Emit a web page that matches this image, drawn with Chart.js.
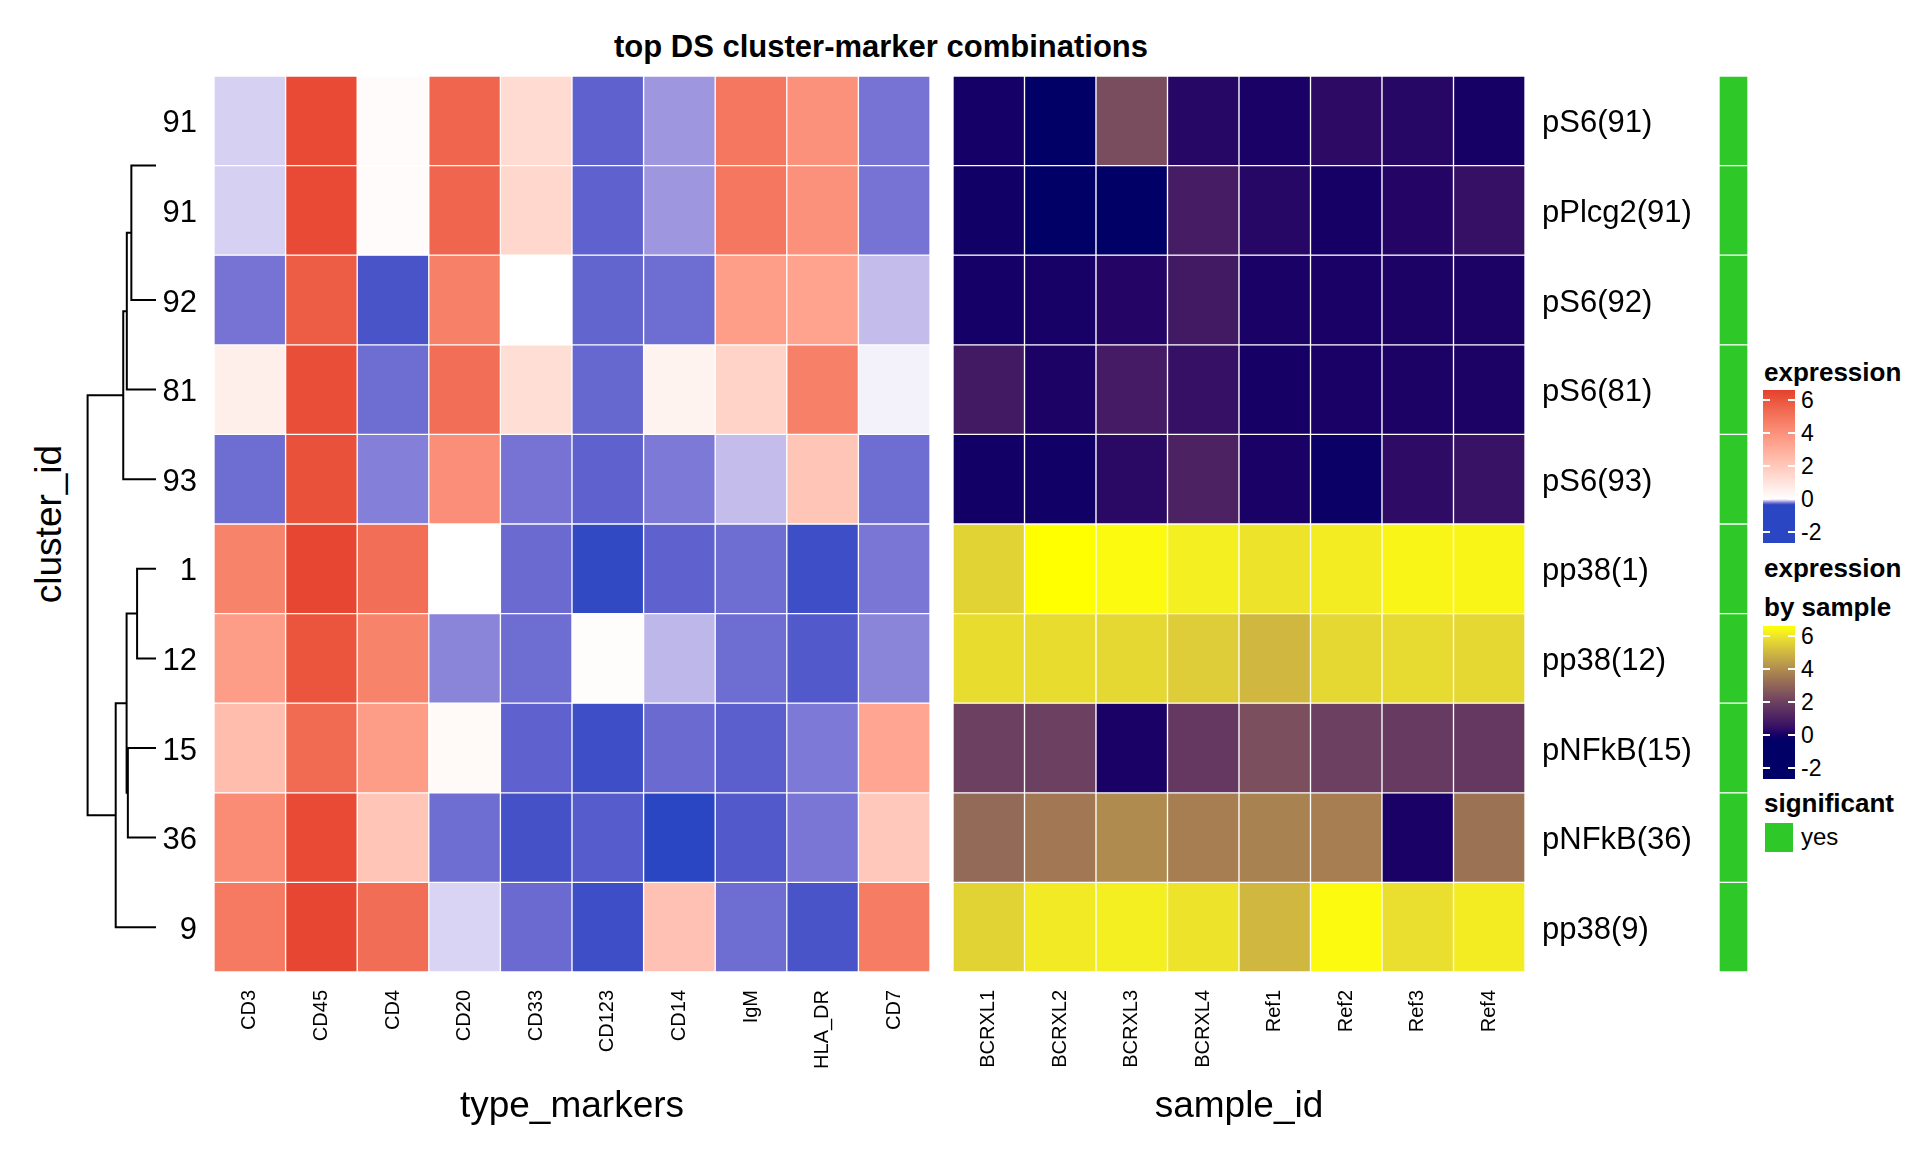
<!DOCTYPE html>
<html><head><meta charset="utf-8">
<script src="https://cdn.jsdelivr.net/npm/chart.js@4.4.1/dist/chart.umd.min.js"></script>
<style>
html,body{margin:0;padding:0;background:#fff;}
#root{position:relative;width:1920px;height:1152px;overflow:hidden;background:#fff;font-family:'Liberation Sans',Arial,Helvetica,sans-serif;color:#000;}
canvas{position:absolute;}
.txt{position:absolute;white-space:nowrap;line-height:1;}
</style></head><body><div id="root">
<canvas id="dendro"></canvas>
<canvas id="hmType"></canvas>
<canvas id="hmState"></canvas>
<canvas id="annoSig"></canvas>
</div>
<script>
// ---------------- DATA ----------------
const chartTitle = 'top DS cluster-marker combinations';
const typeMarkers = ['CD3','CD45','CD4','CD20','CD33','CD123','CD14','IgM','HLA_DR','CD7'];
const clusterIds = ['91','91','92','81','93','1','12','15','36','9'];
const stateLabels = ['pS6(91)','pPlcg2(91)','pS6(92)','pS6(81)','pS6(93)','pp38(1)','pp38(12)','pNFkB(15)','pNFkB(36)','pp38(9)'];
const sampleIds = ['BCRXL1','BCRXL2','BCRXL3','BCRXL4','Ref1','Ref2','Ref3','Ref4'];
const significant = ['yes','yes','yes','yes','yes','yes','yes','yes','yes','yes'];

// type-marker expression per cluster row (order of typeMarkers)
const typeExpr91a = [-0.07, 6.3, 0.15, 5.5, 1.3, -0.25, -0.16, 4.9, 4.0, -0.22];
const typeExpr91b = [-0.07, 6.3, 0.15, 5.5, 1.45, -0.25, -0.16, 4.9, 4.0, -0.22];
const typeExpr92  = [-0.22, 5.75, -0.275, 4.6, 0.0, -0.245, -0.23, 3.55, 3.35, -0.10];
const typeExpr81  = [0.6, 6.2, -0.23, 5.2, 1.2, -0.24, 0.45, 1.6, 4.6, -0.02];
const typeExpr93  = [-0.23, 6.1, -0.2, 4.1, -0.22, -0.25, -0.21, -0.10, 2.1, -0.23];
const typeExpr1   = [4.5, 6.4, 5.2, 0.0, -0.235, -0.295, -0.25, -0.23, -0.285, -0.215];
const typeExpr12  = [3.6, 6.0, 4.5, -0.19, -0.23, 0.1, -0.11, -0.23, -0.265, -0.19];
const typeExpr15  = [2.4, 5.3, 3.6, 0.2, -0.25, -0.285, -0.235, -0.255, -0.21, 3.3];
const typeExpr36  = [4.2, 6.3, 2.1, -0.23, -0.28, -0.26, -0.3, -0.265, -0.215, 2.0];
const typeExpr9   = [4.8, 6.4, 5.25, -0.065, -0.235, -0.285, 2.25, -0.23, -0.275, 4.75];

// state-marker expression by sample (order of sampleIds)
const statePS6_91    = [0.0, -0.3, 2.35, 0.25, 0.05, 0.36, 0.25, 0.02];
const statePPlcg2_91 = [-0.05, -0.3, -0.3, 0.9, 0.25, 0.02, 0.2, 0.5];
const statePS6_92    = [0.0, 0.03, 0.2, 0.8, 0.05, 0.05, 0.1, 0.1];
const statePS6_81    = [0.8, 0.1, 0.85, 0.5, 0.02, 0.05, 0.1, 0.1];
const statePS6_93    = [-0.02, -0.05, 0.3, 1.05, 0.05, -0.15, 0.38, 0.55];
const statePp38_1    = [5.6, 6.55, 6.45, 6.2, 5.95, 6.15, 6.35, 6.35];
const statePp38_12   = [5.8, 5.8, 5.7, 5.45, 5.0, 5.7, 5.75, 5.7];
const statePNFkB_15  = [2.0, 2.0, 0.05, 1.75, 2.4, 2.0, 1.85, 1.75];
const statePNFkB_36  = [3.1, 3.5, 3.95, 3.65, 3.75, 3.65, 0.05, 3.35];
const statePp38_9    = [5.6, 6.1, 6.2, 5.95, 5.0, 6.45, 5.85, 6.15];

// row dendrogram (hclust style merges: negative = leaf row, positive = earlier merge)
const mergeLeft   = [-1, 1, 2, 3, -6, -8, 5, 7, 4];
const mergeRight  = [-2, -3, -4, -5, -7, -9, 6, -10, 8];
const mergeHeight = [0, 0.374, 0.439, 0.49, 0.292, 0.424, 0.442, 0.598, 1.0];

// colour mappings
const exprBreaks = [-0.3, 0, 6.55];
const exprColors = ['#2B46C3', '#FFFFFF', '#E5412E'];
const sampleBreaks = [-0.3, 0, 2, 3.6, 5, 6.55];
const sampleColors = ['#000066', '#140066', '#6C4060', '#A47C52', '#D0B840', '#FFFF00'];
const legendTicks = [-2, 0, 2, 4, 6];
const sigColor = '#2EC829';

// ---------------- HELPERS ----------------
const FONT = "'Liberation Sans', Arial, Helvetica, sans-serif";
Chart.defaults.font.family = FONT;
Chart.defaults.color = '#000';
Chart.defaults.animation = false;

function hex2rgb(h){h=h.replace('#','');return [0,2,4].map(i=>parseInt(h.substr(i,2),16));}
function s2l(c){c/=255;return c<=0.04045?c/12.92:Math.pow((c+0.055)/1.055,2.4);}
function l2s(c){c=c<=0.0031308?12.92*c:1.055*Math.pow(Math.max(c,0),1/2.4)-0.055;return Math.round(Math.max(0,Math.min(1,c))*255);}
const Xn=0.95047,Yn=1,Zn=1.08883;
function ff(t){return t>0.008856?Math.cbrt(t):7.787*t+16/116;}
function fi(t){return t>0.206893?t*t*t:(t-16/116)/7.787;}
function rgb2lab(rgb){const [r,g,b]=rgb.map(s2l);
  const X=0.4124*r+0.3576*g+0.1805*b,Y=0.2126*r+0.7152*g+0.0722*b,Z=0.0193*r+0.1192*g+0.9505*b;
  const fx=ff(X/Xn),fy=ff(Y/Yn),fz=ff(Z/Zn);return [116*fy-16,500*(fx-fy),200*(fy-fz)];}
function lab2rgb([L,a,b]){const fy=(L+16)/116,fx=fy+a/500,fz=fy-b/200;
  const X=Xn*fi(fx),Y=Yn*fi(fy),Z=Zn*fi(fz);
  return [l2s(3.2406*X-1.5372*Y-0.4986*Z),l2s(-0.9689*X+1.8758*Y+0.0415*Z),l2s(0.0557*X-0.2040*Y+1.0570*Z)];}
function colorRamp(breaks, colors){
  const labs=colors.map(c=>rgb2lab(hex2rgb(c)));
  return v=>{
    let i=0;
    if(v<=breaks[0]) return 'rgb('+lab2rgb(labs[0]).join(',')+')';
    if(v>=breaks[breaks.length-1]) return 'rgb('+lab2rgb(labs[labs.length-1]).join(',')+')';
    while(v>breaks[i+1]) i++;
    const t=(v-breaks[i])/(breaks[i+1]-breaks[i]);
    const lab=labs[i].map((x,k)=>x+(labs[i+1][k]-x)*t);
    return 'rgb('+lab2rgb(lab).join(',')+')';
  };
}
const exprColor = colorRamp(exprBreaks, exprColors);
const sampleColor = colorRamp(sampleBreaks, sampleColors);

function place(id,left,top,w,h){
  const c=document.getElementById(id);
  c.width=w;c.height=h;
  Object.assign(c.style,{left:left+'px',top:top+'px',width:w+'px',height:h+'px'});
  return c;
}
function addText(text,x,y,opts){
  const d=document.createElement('div');d.className='txt';d.textContent=text;
  d.style.left=x+'px';d.style.top=y+'px';
  d.style.fontSize=(opts.size||20)+'px';
  if(opts.bold) d.style.fontWeight='bold';
  d.style.transform=opts.transform||'translate(0,-50%)';
  document.getElementById('root').appendChild(d);return d;
}

// ---------------- LAYOUT ----------------
const HM_TOP=76, HM_H=896;
const L_LEFT=214, L_W=716;
const R_LEFT=953, R_W=572;
const XAX_H=180;

const typeRows=[typeExpr91a,typeExpr91b,typeExpr92,typeExpr81,typeExpr93,typeExpr1,typeExpr12,typeExpr15,typeExpr36,typeExpr9];
const stateRows=[statePS6_91,statePPlcg2_91,statePS6_92,statePS6_81,statePS6_93,statePp38_1,statePp38_12,statePNFkB_15,statePNFkB_36,statePp38_9];

const noGrid={display:false,drawTicks:false};
function heatmap(canvasId,left,width,cols,rows,colorFn,rowLabels,yPos,yWidth,xTitle){
  const cv=place(canvasId, yPos==='left'?left-yWidth:left, HM_TOP, width+yWidth, HM_H+XAX_H);
  return new Chart(cv,{
    type:'bar',
    data:{labels:cols,datasets:rows.map((vals,r)=>({
      data:vals.map(()=>[r,r+1]),
      backgroundColor:vals.map(colorFn),
      borderColor:'#ffffff',borderWidth:1,borderSkipped:false,
      grouped:false,barPercentage:1,categoryPercentage:1}))},
    options:{responsive:false,animation:false,layout:{padding:0},
      plugins:{legend:{display:false},tooltip:{enabled:false}},
      scales:{
        x:{grid:noGrid,border:{display:false},
           ticks:{font:{size:20},color:'#000',minRotation:90,maxRotation:90,padding:18,autoSkip:false},
           title:{display:true,text:xTitle,font:{size:37},color:'#000',padding:{top:0,bottom:23}},
           afterFit:s=>{s.height=XAX_H;s.paddingLeft=0;s.paddingRight=0;}},
        y:{type:'linear',position:yPos,min:0,max:10,reverse:true,grid:noGrid,border:{display:false},
           ticks:{font:{size:31},color:'#000',padding:17,labelOffset:3,autoSkip:false,callback:(v,i)=>rowLabels[i]},
           afterBuildTicks:s=>{s.ticks=rowLabels.map((_,i)=>({value:i+0.5}));},
           afterFit:s=>{s.width=yWidth;s.paddingTop=0;s.paddingBottom=0;}}
      }}
  });
}
heatmap('hmType',L_LEFT,L_W,typeMarkers,typeRows,exprColor,clusterIds,'left',60,'type_markers');
heatmap('hmState',R_LEFT,R_W,sampleIds,stateRows,sampleColor,stateLabels,'right',200,'sample_id');

// significance annotation column
(function(){
  const cv=place('annoSig',1719,HM_TOP,29,HM_H);
  new Chart(cv,{type:'bar',
    data:{labels:stateLabels,datasets:[{data:significant.map(()=>1),
      backgroundColor:significant.map(s=>s==='yes'?sigColor:'#d3d3d3'),
      borderColor:'#ffffff',borderWidth:1,borderSkipped:false,barPercentage:1,categoryPercentage:1}]},
    options:{indexAxis:'y',responsive:false,animation:false,layout:{padding:0},
      plugins:{legend:{display:false},tooltip:{enabled:false}},
      scales:{x:{display:false,min:0,max:1},y:{display:false}}}});
})();

// dendrogram
(function(){
  const DW=76, DLEFT=80;
  const rootPx=7.6, leafPx=DW+1.5;
  const ppu=(leafPx-rootPx)/mergeHeight[mergeHeight.length-1];
  const xmin=(leafPx-DW)/ppu, xmax=leafPx/ppu;
  const nodeY=[], nodeH=[];
  const pos=id=>id<0?{y:-id-0.5,h:0}:{y:nodeY[id-1],h:nodeH[id-1]};
  const datasets=[];
  mergeHeight.forEach((h,k)=>{
    const a=pos(mergeLeft[k]), b=pos(mergeRight[k]);
    nodeY.push((a.y+b.y)/2); nodeH.push(h);
    datasets.push({data:[{x:a.h,y:a.y},{x:h,y:a.y},{x:h,y:b.y},{x:b.h,y:b.y}],
      showLine:true,pointRadius:0,borderColor:'#000',borderWidth:2,fill:false,
      clip:{left:10,right:0,top:10,bottom:10}});
  });
  const cv=place('dendro',DLEFT,HM_TOP,DW,HM_H);
  new Chart(cv,{type:'scatter',data:{datasets},
    options:{responsive:false,animation:false,layout:{padding:0},
      plugins:{legend:{display:false},tooltip:{enabled:false}},
      scales:{x:{display:false,type:'linear',reverse:true,min:xmin,max:xmax,bounds:'data'},
              y:{display:false,type:'linear',reverse:true,min:0,max:10,bounds:'data'}}}});
})();

// ---------------- TEXT ----------------
addText(chartTitle,881,46,{size:31,bold:true,transform:'translate(-50%,-50%)'});
addText('cluster_id',48,524,{size:37,transform:'translate(-50%,-50%) rotate(-90deg)'});

// ---------------- LEGENDS ----------------
function colorbar(top,colorFn,vmin,vmax){
  const root=document.getElementById('root');
  const x=1763,w=32,h=153;
  const stops=[];
  for(let i=0;i<=80;i++){const v=vmin+(vmax-vmin)*i/80;stops.push(colorFn(v)+' '+(i/80*100).toFixed(2)+'%');}
  const bar=document.createElement('div');
  Object.assign(bar.style,{position:'absolute',left:x+'px',top:top+'px',width:w+'px',height:h+'px',
    background:'linear-gradient(to top,'+stops.join(',')+')'});
  root.appendChild(bar);
  legendTicks.forEach(t=>{
    const y=top+(vmax-t)/(vmax-vmin)*h;
    [x,x+w-7].forEach(xx=>{
      const d=document.createElement('div');
      Object.assign(d.style,{position:'absolute',left:xx+'px',top:(y-1)+'px',width:'7px',height:'2px',background:'#fff'});
      root.appendChild(d);
    });
    addText(String(t),1801,y,{size:23});
  });
}
addText('expression',1764,372,{size:26,bold:true});
colorbar(390,exprColor,-2.65,6.6);
addText('expression',1764,568,{size:26,bold:true});
addText('by sample',1764,607,{size:26,bold:true});
colorbar(626,sampleColor,-2.65,6.6);
addText('significant',1764,803,{size:26,bold:true});
(function(){
  const d=document.createElement('div');
  Object.assign(d.style,{position:'absolute',left:'1765px',top:'823px',width:'28px',height:'29px',background:sigColor});
  document.getElementById('root').appendChild(d);
  addText('yes',1801,837,{size:24});
})();
</script></body></html>
